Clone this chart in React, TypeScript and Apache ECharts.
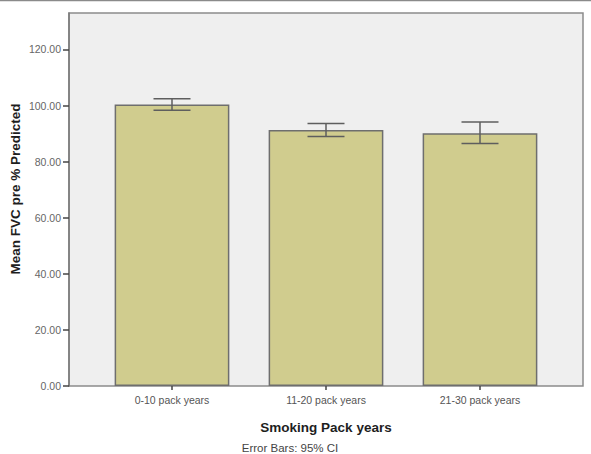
import React, { useEffect, useRef } from "react";
import * as echarts from "echarts";

const categories = ["0-10 pack years", "11-20 pack years", "21-30 pack years"];
const means = [100.4, 91.3, 90.1];
const ciLow = [98.3, 89.0, 86.5];
const ciHigh = [102.4, 93.6, 94.1];
const yTicks = [0, 20, 40, 60, 80, 100, 120];

const FONT = "'Liberation Sans', Arial, sans-serif";

export default function App() {
  const ref = useRef<HTMLDivElement>(null);
  useEffect(() => {
    if (!ref.current) return;
    const chart = echarts.init(ref.current, null, { renderer: "svg" });
    const errData = categories.map((_, i) => [i, ciLow[i], ciHigh[i]]);
    chart.setOption({
      animation: false,
      backgroundColor: "#ffffff",
      grid: { left: 95, right: 34, top: 13, bottom: 68, containLabel: false },
      graphic: [
        {
          type: "line",
          shape: { x1: 0, y1: 0.5, x2: 591, y2: 0.5 },
          style: { stroke: "#8a8a8a", lineWidth: 1.5 },
          z: 0,
        },
        {
          type: "rect",
          shape: { x: 69, y: 13, width: 514, height: 373 },
          style: { fill: "#efefef", stroke: "#8c8c8c", lineWidth: 1.5 },
          z: -10,
          silent: true,
        },
        {
          type: "text",
          x: 15,
          y: 189,
          rotation: Math.PI / 2,
          style: {
            text: "Mean FVC pre % Predicted",
            font: `bold 13.5px ${FONT}`,
            fill: "#1e1e1e",
            align: "center",
            verticalAlign: "middle",
          },
        },
        {
          type: "text",
          x: 290,
          y: 448,
          style: {
            text: "Error Bars: 95% CI",
            font: `11.5px ${FONT}`,
            fill: "#444",
            align: "center",
            verticalAlign: "middle",
          },
        },
      ],
      xAxis: {
        type: "category",
        data: categories,
        name: "Smoking Pack years",
        nameLocation: "middle",
        nameGap: 34,
        nameTextStyle: { fontFamily: FONT, fontSize: 13.5, fontWeight: "bold", color: "#1e1e1e" },
        axisLine: { show: false },
        axisTick: { show: true, alignWithLabel: true, length: 4, lineStyle: { color: "#444", width: 1.5 } },
        axisLabel: { fontFamily: FONT, fontSize: 10.5, color: "#555", margin: 8 },
        splitLine: { show: false },
      },
      yAxis: {
        type: "value",
        min: 0,
        max: 133,
        interval: 20,
        offset: 26,
        axisLine: { show: true, lineStyle: { color: "#7a7a7a", width: 1.5 } },
        axisTick: {
          show: true,
          length: 6,
          lineStyle: { color: "#444", width: 1.5 },
          customValues: yTicks,
        },
        axisLabel: {
          fontFamily: FONT,
          fontSize: 10.5,
          color: "#666",
          margin: 8,
          customValues: yTicks,
          formatter: (v: number) => v.toFixed(2),
        },
        splitLine: { show: false },
      },
      series: [
        {
          type: "bar",
          data: means,
          barWidth: "74.5%",
          itemStyle: { color: "#d0cc8e", borderColor: "#6e6e6e", borderWidth: 1.5 },
          z: 2,
        },
        {
          type: "custom",
          data: errData,
          z: 3,
          renderItem: (params: any, api: any) => {
            const x = api.value(0);
            const lo = api.coord([x, api.value(1)]);
            const hi = api.coord([x, api.value(2)]);
            const hw = 18.5;
            const style = { stroke: "#5e5e5e", lineWidth: 1.5 };
            return {
              type: "group",
              children: [
                { type: "line", shape: { x1: lo[0], y1: lo[1], x2: hi[0], y2: hi[1] }, style },
                { type: "line", shape: { x1: hi[0] - hw, y1: hi[1], x2: hi[0] + hw, y2: hi[1] }, style },
                { type: "line", shape: { x1: lo[0] - hw, y1: lo[1], x2: lo[0] + hw, y2: lo[1] }, style },
              ],
            };
          },
        },
      ],
    });
    return () => chart.dispose();
  }, []);
  return (
    <div
      ref={ref}
      style={{ position: "fixed", left: 0, top: 0, width: 591, height: 454 }}
    />
  );
}
